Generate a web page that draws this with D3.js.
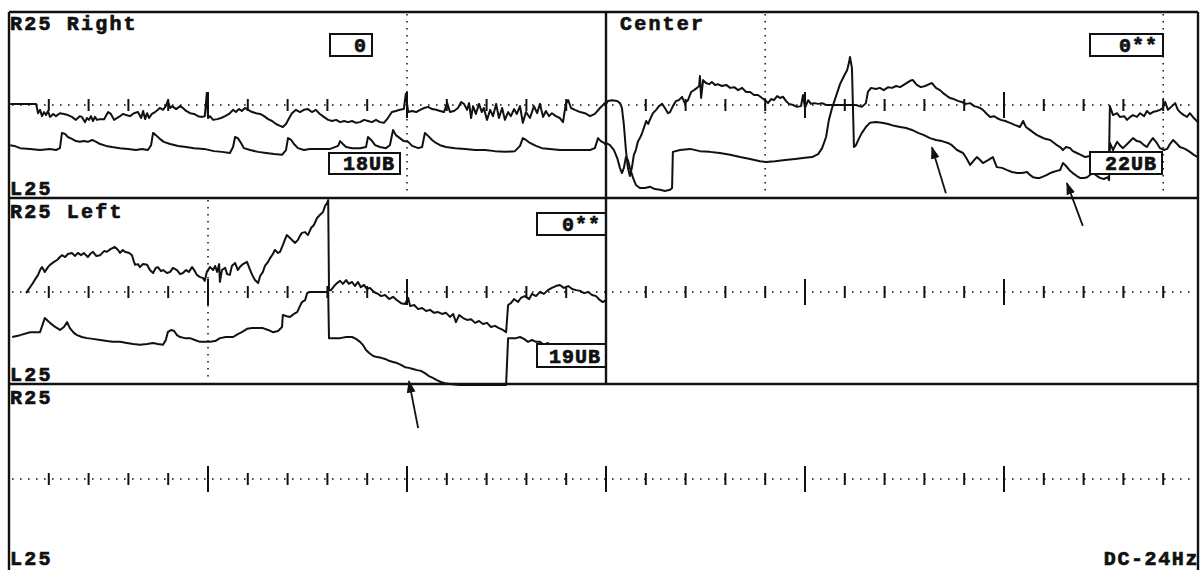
<!DOCTYPE html>
<html>
<head>
<meta charset="utf-8">
<script src="https://cdn.jsdelivr.net/npm/d3@7"></script>
<style>
  body { margin: 0; background: #fff; }
  text { font-family: "Liberation Mono", "DejaVu Sans Mono", monospace; font-weight: bold; fill: #111; stroke: #111; stroke-width: 0.7; }
</style>
</head>
<body>
<svg id="chart" width="1200" height="570"></svg>
<script>
// time axis in seconds (1 tick = 1 s), amplitude in uV (+/-25 per row)
const tickSeconds = d3.range(1, 30)
const markersTop = [10, 19, 29]
const markersMid = [5]
const rowTopLabels = ['R25 Right', 'R25 Left', 'R25']
const rowBottomLabels = ['L25', 'L25', 'L25']
const centerLabel = 'Center'
const filterLabel = 'DC-24Hz'
const boxLabels = ['0', '18UB', '0**', '22UB', '0**', '19UB']

// "Right" panel, upper and lower trace
const rightUpper = [[0.03,0.3],[0.28,0.3],[0.53,0.3],[0.68,0.3],[0.73,-2.2],[0.78,-1.3],[0.83,-3.0],[0.88,-1.9],[0.93,-2.7],[0.98,-1.6],[1.03,-3.2],[1.11,-2.4],[1.18,-3.0],[1.28,-2.2],[1.38,-2.4],[1.48,-2.7],[1.58,-3.2],[1.68,-4.0],[1.73,-3.5],[1.78,-3.0],[1.83,-3.2],[1.91,-4.6],[1.96,-3.5],[2.01,-4.0],[2.06,-3.0],[2.11,-4.3],[2.16,-3.2],[2.21,-4.0],[2.29,-3.8],[2.39,-3.8],[2.49,-1.9],[2.56,-2.4],[2.64,-4.0],[2.71,-3.5],[2.79,-3.0],[2.86,-2.4],[2.94,-2.7],[3.04,-3.0],[3.14,-2.2],[3.24,-1.9],[3.32,-3.5],[3.37,-1.6],[3.42,-3.8],[3.47,-2.2],[3.52,-3.5],[3.59,-2.4],[3.67,-1.9],[3.74,-1.3],[3.79,-0.8],[3.87,-1.3],[3.94,-0.3],[3.99,1.1],[4.05,-0.8],[4.10,-0.3],[4.20,-1.1],[4.30,-0.3],[4.37,-0.8],[4.45,-1.6],[4.55,-2.2],[4.65,-2.4],[4.75,-3.0],[4.85,-3.2],[4.92,-3.0],[4.97,3.2],[5.00,-3.5],[5.05,-3.0],[5.13,-4.0],[5.23,-3.8],[5.33,-3.5],[5.43,-3.0],[5.53,-2.4],[5.63,-1.3],[5.70,-1.9],[5.78,-1.1],[5.85,-1.6],[5.93,-0.8],[6.01,-1.3],[6.11,-1.9],[6.21,-2.2],[6.31,-2.4],[6.41,-3.0],[6.51,-3.8],[6.61,-4.3],[6.71,-5.1],[6.81,-5.6],[6.88,-5.9],[6.96,-5.1],[7.04,-3.5],[7.11,-2.2],[7.21,-1.3],[7.31,-1.9],[7.41,-1.3],[7.51,-1.1],[7.61,-1.9],[7.71,-1.3],[7.81,-2.4],[7.91,-3.2],[8.02,-4.0],[8.12,-4.3],[8.22,-4.0],[8.32,-4.6],[8.42,-4.3],[8.52,-4.6],[8.62,-4.3],[8.72,-4.8],[8.82,-4.6],[8.92,-4.0],[9.02,-4.3],[9.12,-4.6],[9.22,-4.0],[9.32,-4.6],[9.42,-4.8],[9.52,-3.5],[9.62,-1.9],[9.72,-1.6],[9.82,-1.3],[9.92,-1.1],[9.97,3.0],[10.03,-1.9],[10.13,-1.6],[10.23,-1.9],[10.33,-1.3],[10.43,-0.8],[10.53,-0.5],[10.63,-1.1],[10.73,-1.3],[10.83,-1.6],[10.93,-1.9],[11.01,0.5],[11.08,-1.9],[11.18,-1.6],[11.28,-0.8],[11.36,0.8],[11.43,0.3],[11.51,-1.3],[11.56,0.5],[11.61,-3.5],[11.66,-0.3],[11.73,-2.4],[11.81,0.3],[11.88,-1.9],[11.93,-0.8],[12.01,-4.0],[12.09,-1.3],[12.16,-3.0],[12.24,0.3],[12.31,-3.5],[12.39,-0.8],[12.46,-4.0],[12.54,-1.9],[12.61,-3.0],[12.69,-1.1],[12.76,-2.4],[12.84,-0.3],[12.91,-4.8],[12.99,-1.9],[13.09,-3.5],[13.19,-0.3],[13.27,-2.2],[13.34,0.3],[13.42,-3.2],[13.49,-1.6],[13.57,-3.0],[13.64,-2.2],[13.74,-3.0],[13.84,-3.5],[13.92,-4.6],[13.99,0.3],[14.05,1.3],[14.12,-0.8],[14.22,-1.3],[14.35,-1.9],[14.47,-2.2],[14.60,-3.0],[14.72,-2.4],[14.85,-0.8],[14.95,0.3],[15.00,0.8]]
const rightLower = [[0.03,-10.8],[0.13,-11.0],[0.28,-11.6],[0.53,-11.8],[0.78,-12.1],[1.03,-11.8],[1.18,-12.1],[1.28,-11.6],[1.33,-7.5],[1.41,-7.8],[1.48,-8.6],[1.58,-9.1],[1.68,-9.7],[1.78,-9.9],[1.88,-9.7],[1.98,-9.9],[2.09,-9.4],[2.19,-9.9],[2.29,-10.5],[2.44,-11.0],[2.59,-11.3],[2.79,-11.6],[2.99,-11.8],[3.19,-12.1],[3.34,-11.8],[3.49,-12.1],[3.57,-10.8],[3.62,-7.5],[3.69,-8.1],[3.79,-9.1],[3.89,-9.9],[4.05,-10.5],[4.25,-11.0],[4.45,-11.3],[4.65,-11.6],[4.90,-11.8],[5.15,-12.4],[5.35,-12.6],[5.55,-12.9],[5.63,-11.3],[5.68,-8.6],[5.75,-8.9],[5.83,-10.2],[5.90,-11.6],[6.06,-12.1],[6.26,-12.6],[6.46,-12.9],[6.66,-13.2],[6.86,-13.4],[6.96,-12.1],[7.01,-8.9],[7.09,-9.4],[7.16,-10.5],[7.26,-11.6],[7.41,-12.1],[7.56,-11.8],[7.81,-11.8],[8.07,-11.8],[8.27,-11.0],[8.32,-9.7],[8.39,-10.5],[8.47,-11.3],[8.62,-11.6],[8.82,-11.6],[8.97,-11.3],[9.02,-8.6],[9.10,-9.4],[9.20,-10.8],[9.32,-11.3],[9.47,-11.6],[9.57,-10.8],[9.65,-6.7],[9.72,-8.1],[9.82,-8.9],[9.92,-9.7],[10.03,-9.9],[10.13,-11.0],[10.28,-11.6],[10.38,-11.3],[10.45,-7.5],[10.53,-8.3],[10.63,-9.4],[10.73,-10.2],[10.83,-10.8],[10.98,-11.3],[11.21,-11.6],[11.46,-11.8],[11.71,-12.1],[11.96,-12.1],[12.21,-12.4],[12.46,-12.6],[12.71,-12.4],[12.84,-11.0],[12.91,-8.9],[12.99,-9.4],[13.09,-10.2],[13.24,-11.0],[13.39,-11.6],[13.59,-11.8],[13.84,-12.1],[14.10,-12.1],[14.35,-12.1],[14.60,-12.1],[14.72,-11.6],[14.80,-8.9],[14.87,-9.7],[14.95,-10.2],[15.00,-10.8]]

// "Center" panel
const centerUpper = [[15.00,0.3],[15.05,1.1],[15.15,1.3],[15.28,1.1],[15.35,0.5],[15.40,-0.8],[15.45,-5.4],[15.50,-12.1],[15.55,-16.9],[15.60,-19.1],[15.65,-16.9],[15.70,-13.4],[15.75,-12.1],[15.80,-9.9],[15.85,-8.9],[15.90,-7.8],[15.95,-6.2],[16.01,-4.3],[16.06,-5.1],[16.11,-3.8],[16.18,-2.2],[16.26,-1.3],[16.33,-0.3],[16.41,0.3],[16.48,-0.8],[16.56,-2.2],[16.61,-1.9],[16.68,-0.3],[16.76,1.1],[16.83,1.3],[16.91,2.2],[16.98,0.5],[17.06,1.3],[17.14,3.5],[17.21,4.0],[17.29,4.6],[17.34,5.1],[17.36,7.8],[17.39,1.9],[17.44,6.7],[17.51,5.9],[17.59,5.6],[17.66,6.2],[17.74,5.4],[17.81,5.6],[17.91,5.1],[18.02,5.4],[18.12,4.6],[18.22,4.8],[18.32,4.0],[18.42,4.6],[18.52,3.5],[18.62,3.5],[18.72,2.7],[18.82,2.7],[18.92,1.9],[19.02,1.1],[19.07,0.5],[19.15,1.6],[19.22,1.3],[19.30,2.4],[19.37,1.9],[19.45,2.2],[19.52,1.1],[19.60,0.3],[19.70,0],[19.80,-0.5],[19.90,-0.3],[19.95,2.7],[20.00,-0.8],[20.08,1.3],[20.15,0.3],[20.23,0.5],[20.33,0.3],[20.43,0.5],[20.53,0],[20.63,0],[20.88,0],[21.13,0],[21.28,0],[21.43,-0.5],[21.53,0.5],[21.58,3.5],[21.66,4.6],[21.78,4.3],[21.88,4.6],[21.98,4.0],[22.09,4.8],[22.19,4.6],[22.29,5.1],[22.39,4.8],[22.51,5.6],[22.64,6.5],[22.71,6.7],[22.81,5.4],[22.91,4.8],[23.02,5.1],[23.12,5.6],[23.19,5.9],[23.29,4.6],[23.39,4.0],[23.47,3.2],[23.57,2.4],[23.64,1.9],[23.74,1.6],[23.84,1.1],[23.94,0.8],[24.05,0.3],[24.15,0.5],[24.25,-0.3],[24.32,-0.5],[24.40,-0.8],[24.47,-1.3],[24.57,-2.4],[24.65,-3.2],[24.75,-3.0],[24.82,-3.5],[24.92,-4.0],[25.03,-4.3],[25.15,-4.8],[25.28,-5.4],[25.40,-5.9],[25.48,-4.3],[25.55,-5.9],[25.65,-6.7],[25.75,-7.5],[25.83,-8.1],[25.93,-8.6],[26.03,-9.1],[26.16,-9.4],[26.26,-10.2],[26.33,-10.8],[26.41,-11.3],[26.48,-12.1],[26.56,-11.3],[26.66,-11.6],[26.73,-12.4],[26.83,-12.9],[26.93,-13.4],[27.04,-14.0],[27.16,-13.7],[27.29,-14.0],[27.41,-14.2],[27.56,-14.0],[27.64,-14.0],[27.66,-0.3],[27.74,-2.7],[27.84,-2.2],[27.91,-3.2],[28.02,-3.0],[28.09,-4.0],[28.17,-3.2],[28.24,-2.7],[28.34,-3.2],[28.42,-2.2],[28.52,-3.0],[28.59,-1.6],[28.67,-2.4],[28.74,-1.9],[28.84,-1.6],[28.92,-1.3],[28.99,-0.8],[29.05,0.8],[29.12,-1.3],[29.20,-0.5],[29.30,0.5],[29.37,-1.3],[29.45,-2.2],[29.52,-2.7],[29.60,-3.2],[29.67,-2.2],[29.77,-3.5],[29.87,-4.6]]
const centerLower = [[15.00,-10.2],[15.10,-10.8],[15.20,-12.1],[15.28,-14.2],[15.35,-16.9],[15.40,-18.3],[15.45,-16.9],[15.50,-14.0],[15.55,-14.8],[15.60,-16.9],[15.68,-19.6],[15.75,-21.5],[15.85,-22.3],[15.98,-22.3],[16.11,-22.0],[16.23,-22.6],[16.36,-22.8],[16.48,-23.1],[16.61,-22.8],[16.66,-22.3],[16.68,-12.6],[16.86,-12.1],[17.11,-11.8],[17.36,-12.4],[17.61,-12.6],[17.86,-12.9],[18.12,-13.4],[18.37,-14.0],[18.62,-14.5],[18.87,-15.1],[19.02,-15.3],[19.25,-15.1],[19.50,-14.8],[19.75,-14.5],[20.00,-14.2],[20.18,-14.0],[20.33,-13.2],[20.43,-11.6],[20.53,-8.6],[20.60,-4.0],[20.68,-0.8],[20.78,2.4],[20.88,5.6],[20.98,7.8],[21.06,9.4],[21.11,11.6],[21.13,12.9],[21.18,9.9],[21.23,-11.3],[21.28,-10.8],[21.36,-8.9],[21.43,-7.5],[21.53,-5.9],[21.63,-4.8],[21.78,-4.6],[21.93,-4.8],[22.09,-5.1],[22.24,-5.6],[22.39,-5.9],[22.54,-6.2],[22.69,-6.7],[22.84,-7.5],[22.99,-8.1],[23.14,-8.9],[23.29,-9.4],[23.44,-9.7],[23.59,-10.2],[23.69,-10.8],[23.82,-12.1],[23.97,-12.9],[24.05,-14.2],[24.15,-16.1],[24.25,-14.8],[24.32,-14.0],[24.40,-14.8],[24.47,-15.6],[24.60,-14.8],[24.72,-14.0],[24.82,-16.7],[24.95,-16.9],[25.08,-17.5],[25.20,-18.0],[25.33,-18.3],[25.45,-18.3],[25.58,-18.0],[25.65,-18.8],[25.73,-19.4],[25.83,-19.6],[25.90,-19.6],[26.01,-19.1],[26.08,-18.8],[26.16,-18.3],[26.23,-18.0],[26.33,-17.7],[26.41,-17.5],[26.48,-15.6],[26.56,-16.4],[26.66,-17.7],[26.73,-18.3],[26.83,-19.1],[26.91,-19.6],[27.01,-19.6],[27.09,-19.4],[27.16,-18.8],[27.24,-18.3],[27.34,-19.1],[27.41,-19.6],[27.51,-19.9],[27.61,-19.4],[27.64,-20.2],[27.66,-10.2],[27.74,-12.1],[27.84,-9.9],[27.91,-10.8],[27.99,-11.6],[28.12,-10.2],[28.24,-8.9],[28.34,-9.7],[28.42,-9.9],[28.52,-10.8],[28.59,-11.3],[28.67,-9.9],[28.74,-8.9],[28.84,-10.2],[28.92,-11.6],[29.02,-12.1],[29.10,-11.8],[29.17,-10.5],[29.25,-9.4],[29.35,-10.5],[29.42,-11.3],[29.55,-11.8],[29.67,-12.6],[29.77,-13.4],[29.87,-14.0]]

// "Left" panel
const leftUpper = [[0.43,-0.3],[0.48,0.5],[0.55,1.6],[0.60,2.4],[0.68,3.8],[0.73,4.6],[0.78,5.9],[0.83,6.7],[0.90,5.4],[0.98,6.7],[1.03,7.3],[1.13,8.1],[1.21,8.6],[1.28,9.4],[1.33,9.9],[1.41,9.4],[1.48,10.2],[1.58,10.5],[1.66,9.7],[1.73,10.5],[1.81,9.9],[1.88,10.5],[1.98,9.4],[2.04,10.2],[2.11,10.8],[2.19,9.7],[2.29,9.9],[2.39,11.0],[2.46,10.8],[2.56,11.6],[2.66,12.1],[2.74,11.3],[2.79,10.5],[2.86,11.3],[2.91,10.8],[3.02,10.5],[3.09,9.9],[3.14,8.1],[3.17,7.3],[3.24,7.5],[3.29,6.7],[3.37,7.5],[3.47,7.3],[3.54,5.9],[3.62,5.1],[3.69,6.5],[3.74,6.7],[3.82,5.6],[3.87,5.9],[3.97,5.1],[4.05,5.4],[4.12,6.5],[4.22,5.9],[4.30,4.8],[4.37,5.1],[4.45,5.9],[4.52,5.4],[4.60,6.7],[4.67,5.6],[4.72,4.6],[4.80,4.0],[4.87,3.8],[4.92,3.0],[4.97,5.4],[5.05,6.7],[5.13,5.9],[5.18,7.0],[5.23,5.4],[5.28,7.5],[5.30,2.7],[5.35,5.9],[5.43,6.5],[5.48,4.8],[5.55,4.6],[5.60,7.0],[5.68,7.8],[5.75,5.9],[5.80,6.7],[5.88,7.5],[5.98,8.1],[6.06,5.9],[6.11,4.6],[6.18,3.2],[6.26,2.4],[6.31,4.3],[6.38,5.4],[6.43,7.0],[6.51,8.1],[6.56,9.1],[6.63,10.2],[6.68,11.3],[6.76,10.5],[6.81,10.8],[6.88,12.6],[6.93,14.0],[6.98,15.3],[7.06,14.5],[7.11,14.0],[7.19,13.2],[7.26,14.0],[7.31,15.1],[7.36,15.9],[7.44,16.1],[7.51,15.3],[7.59,17.2],[7.66,18.0],[7.74,19.9],[7.81,20.7],[7.89,21.5],[7.94,23.1],[7.99,23.9],[8.02,24.7],[8.04,0.5],[8.09,0.5],[8.17,1.6],[8.24,2.4],[8.32,3.0],[8.39,2.2],[8.47,3.2],[8.54,2.2],[8.62,2.7],[8.69,1.6],[8.77,2.7],[8.84,1.3],[8.92,1.9],[8.99,0.8],[9.07,1.1],[9.17,0],[9.27,-0.5],[9.35,-1.1],[9.45,-0.8],[9.55,-1.9],[9.65,-1.3],[9.75,-2.2],[9.85,-3.0],[9.95,-3.2],[10.03,-1.6],[10.08,-3.8],[10.18,-3.5],[10.28,-4.6],[10.38,-4.3],[10.48,-5.1],[10.58,-4.8],[10.68,-5.6],[10.78,-5.4],[10.88,-5.9],[10.98,-5.6],[11.08,-6.7],[11.16,-5.9],[11.23,-8.1],[11.31,-6.2],[11.41,-7.0],[11.51,-7.5],[11.61,-7.3],[11.71,-8.3],[11.81,-7.8],[11.91,-8.6],[12.01,-8.3],[12.11,-9.4],[12.21,-9.1],[12.31,-9.7],[12.41,-10.2],[12.49,-10.8],[12.54,-3.5],[12.61,-3.0],[12.69,-1.9],[12.79,-2.7],[12.86,-1.6],[12.96,-1.1],[13.07,-1.9],[13.14,-0.5],[13.24,-1.1],[13.34,0],[13.44,-0.5],[13.54,0.5],[13.64,1.1],[13.74,1.6],[13.84,1.9],[13.94,1.1],[14.05,1.6],[14.15,0.8],[14.25,0.5],[14.35,0.3],[14.45,-0.3],[14.55,0],[14.65,-0.8],[14.75,-1.1],[14.85,-2.2],[14.92,-2.7],[15.00,-2.2]]
const leftLower = [[0.08,-12.1],[0.28,-11.6],[0.53,-10.8],[0.78,-10.8],[0.90,-7.0],[0.98,-7.8],[1.03,-8.3],[1.16,-9.4],[1.28,-10.2],[1.38,-9.4],[1.46,-8.1],[1.53,-9.7],[1.63,-11.0],[1.71,-11.6],[1.83,-12.1],[1.96,-12.4],[2.11,-12.6],[2.29,-12.9],[2.46,-13.2],[2.61,-13.4],[2.79,-13.4],[2.96,-13.7],[3.12,-14.0],[3.29,-14.2],[3.47,-14.0],[3.62,-13.7],[3.74,-14.0],[3.87,-14.2],[3.94,-12.9],[3.99,-10.8],[4.07,-10.2],[4.15,-10.5],[4.22,-11.6],[4.30,-12.1],[4.42,-12.4],[4.55,-12.4],[4.67,-12.9],[4.80,-13.4],[4.92,-13.4],[5.05,-13.4],[5.18,-13.2],[5.30,-12.4],[5.45,-12.1],[5.63,-12.1],[5.75,-11.3],[5.85,-10.8],[5.98,-9.9],[6.11,-9.7],[6.26,-9.7],[6.38,-9.7],[6.51,-10.2],[6.63,-10.8],[6.76,-10.5],[6.86,-9.4],[6.88,-6.2],[6.98,-6.5],[7.06,-6.7],[7.16,-5.9],[7.24,-5.4],[7.31,-3.8],[7.36,-2.7],[7.44,-2.2],[7.49,-0.3],[7.56,0],[7.76,0],[8.02,0],[8.04,-12.4],[8.17,-12.4],[8.32,-12.4],[8.47,-12.1],[8.62,-12.1],[8.72,-12.6],[8.82,-13.4],[8.89,-14.2],[8.97,-15.6],[9.05,-16.4],[9.15,-17.2],[9.25,-17.5],[9.35,-17.7],[9.45,-18.0],[9.55,-18.5],[9.65,-18.8],[9.75,-19.1],[9.85,-19.6],[9.95,-20.2],[10.05,-20.4],[10.15,-20.7],[10.25,-21.0],[10.35,-21.2],[10.45,-21.8],[10.55,-22.6],[10.65,-23.1],[10.75,-23.7],[10.85,-24.2],[10.95,-24.5],[11.08,-24.7],[11.33,-25.0],[11.58,-25.0],[11.83,-25.0],[12.09,-25.0],[12.34,-25.0],[12.49,-25.0],[12.54,-12.4],[12.64,-12.4],[12.74,-12.4],[12.84,-12.1],[12.94,-12.6],[13.04,-13.4],[13.14,-12.9],[13.24,-13.4],[13.34,-13.4],[13.44,-14.2],[13.54,-13.7],[13.64,-14.5],[13.74,-14.2],[13.84,-14.0],[13.94,-14.5],[14.05,-15.1],[14.15,-14.8],[14.25,-15.3],[14.35,-15.3],[14.60,-15.6],[14.85,-16.1],[15.00,-16.1]]

const svg = d3.select('#chart')
const frame = { left: 9, right: 1198, top: 12, bottom: 570 }
const rows = [
  { top: 12, bottom: 198, base: 105 },
  { top: 198, bottom: 384, base: 292 },
  { top: 384, bottom: 570, base: 479 }
]
const ink = '#111'

const x = d3.scaleLinear().domain([0, 30]).range([9, 1203])
const y = rows.map(r => d3.scaleLinear().domain([-25, 25]).range([r.base + 93, r.base - 93]))

// dotted baselines + ticks
rows.forEach((r, i) => {
  svg.append('line')
    .attr('x1', 12).attr('x2', frame.right - 2)
    .attr('y1', y[i](0)).attr('y2', y[i](0))
    .attr('stroke', ink).attr('stroke-width', 1.6)
    .attr('stroke-dasharray', '1.6 6.4')

  svg.append('g').selectAll('line').data(tickSeconds)
    .enter().append('line')
    .attr('x1', d => x(d)).attr('x2', d => x(d))
    .attr('y1', d => y[i](0) - (d % 5 === 0 ? 13 : 6))
    .attr('y2', d => y[i](0) + (d % 5 === 0 ? 13 : 6))
    .attr('stroke', ink).attr('stroke-width', 2)
})

// vertical dotted markers
function markers(list, r) {
  svg.append('g').selectAll('line').data(list)
    .enter().append('line')
    .attr('x1', d => x(d)).attr('x2', d => x(d))
    .attr('y1', r.top + 2).attr('y2', r.bottom - 2)
    .attr('stroke', ink).attr('stroke-width', 1.5)
    .attr('stroke-dasharray', '1.5 5.5')
}
markers(markersTop, rows[0])
markers(markersMid, rows[1])

// traces
function trace(data, i) {
  const line = d3.line().x(d => x(d[0])).y(d => y[i](d[1]))
  svg.append('path')
    .datum(data)
    .attr('d', line)
    .attr('fill', 'none')
    .attr('stroke', ink)
    .attr('stroke-width', 2)
    .attr('stroke-linejoin', 'round')
}
trace(rightUpper, 0)
trace(rightLower, 0)
trace(centerUpper, 0)
trace(centerLower, 0)
trace(leftUpper, 1)
trace(leftLower, 1)

// value boxes
const boxes = [
  { x: 330, y: 34, w: 42, h: 22 },
  { x: 329, y: 153, w: 71, h: 21 },
  { x: 1090, y: 34, w: 73, h: 22 },
  { x: 1090, y: 152, w: 72, h: 22 },
  { x: 537, y: 213, w: 69, h: 22 },
  { x: 537, y: 344, w: 69, h: 23 }
]
boxes.forEach((b, k) => {
  svg.append('rect')
    .attr('x', b.x).attr('y', b.y).attr('width', b.w).attr('height', b.h)
    .attr('fill', '#fff').attr('stroke', ink).attr('stroke-width', 2)
  svg.append('text')
    .attr('x', b.x + b.w - 5).attr('y', b.y + b.h - 4)
    .attr('text-anchor', 'end')
    .attr('font-size', 20)
    .attr('letter-spacing', 1)
    .text(boxLabels[k])
})

// frame
const frameG = svg.append('g').attr('stroke', ink).attr('stroke-width', 2.4)
frameG.append('line').attr('x1', frame.left).attr('x2', frame.right).attr('y1', frame.top).attr('y2', frame.top)
frameG.append('line').attr('x1', frame.left).attr('x2', frame.left).attr('y1', frame.top).attr('y2', frame.bottom)
frameG.append('line').attr('x1', frame.right).attr('x2', frame.right).attr('y1', frame.top).attr('y2', frame.bottom)
frameG.append('line').attr('x1', frame.left).attr('x2', frame.right).attr('y1', rows[0].bottom).attr('y2', rows[0].bottom)
frameG.append('line').attr('x1', frame.left).attr('x2', frame.right).attr('y1', rows[1].bottom).attr('y2', rows[1].bottom)
frameG.append('line').attr('x1', x(15)).attr('x2', x(15)).attr('y1', frame.top).attr('y2', rows[1].bottom)

// labels
const labelG = svg.append('g').attr('font-size', 20).attr('letter-spacing', 2.2)
rows.forEach((r, i) => {
  labelG.append('text').attr('x', 10).attr('y', r.top + (i === 0 ? 18 : 20)).text(rowTopLabels[i])
  labelG.append('text').attr('x', 10).attr('y', r.bottom - (i === 2 ? 5 : 3)).text(rowBottomLabels[i])
})
labelG.append('text').attr('x', 620).attr('y', 30).text(centerLabel)
labelG.append('text').attr('x', 1199).attr('y', 565).attr('text-anchor', 'end').attr('letter-spacing', 1.6).text(filterLabel)

// arrows (tip, tail) in trace coordinates
svg.append('defs').append('marker')
  .attr('id', 'head').attr('viewBox', '0 0 10 10')
  .attr('refX', 9).attr('refY', 5)
  .attr('markerWidth', 7).attr('markerHeight', 7)
  .attr('orient', 'auto')
  .append('path').attr('d', 'M0,1.5L10,5L0,8.5Z').attr('fill', ink)

const arrows = [
  { row: 0, tail: [23.54, -23.7], tip: [23.19, -11.4] },
  { row: 0, tail: [26.98, -32.5], tip: [26.58, -21.0] },
  { row: 1, tail: [10.28, -36.6], tip: [10.05, -24.0] }
]
arrows.forEach(a => {
  svg.append('line')
    .attr('x1', x(a.tail[0])).attr('y1', y[a.row](a.tail[1]))
    .attr('x2', x(a.tip[0])).attr('y2', y[a.row](a.tip[1]))
    .attr('stroke', ink).attr('stroke-width', 1.8)
    .attr('marker-end', 'url(#head)')
})
</script>
</body>
</html>
